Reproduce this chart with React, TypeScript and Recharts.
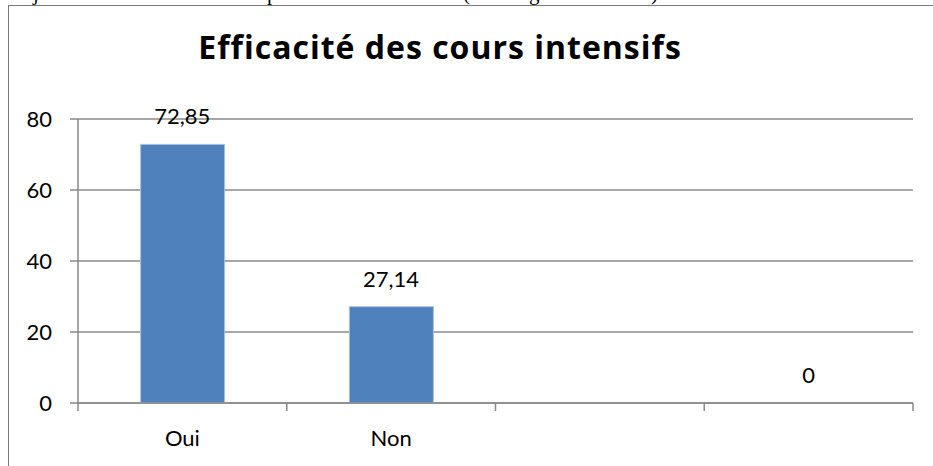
import { ComposedChart, Bar, Line, XAxis, YAxis, CartesianGrid, LabelList } from "recharts";

const categories = ["Oui", "Non", "", ""];
const values: (number | null)[] = [72.85, 27.14, null, 0];
const yTicks = [0, 20, 40, 60, 80];
const title = "Efficacité des cours intensifs";

const data = categories.map((label, i) => ({ key: `c${i}`, label, value: values[i] }));

const GRID = "#8a8a8a";
const BLUE = "#4f81bd";
const FONT = "Lato, 'Open Sans', sans-serif";

const formatValue = (v: any) => (v == null ? "" : String(v).replace(".", ","));

// tick marks sit on category boundaries, labels in the middle
const CategoryTick = (props: any) => {
  const { x, y, payload, index } = props;
  const half = payload?.offset ?? 0;
  const last = index === categories.length - 1;
  return (
    <g>
      <line x1={x - half} x2={x - half} y1={y} y2={y + 8} stroke={GRID} strokeWidth={1.5} />
      {last && <line x1={x + half} x2={x + half} y1={y} y2={y + 8} stroke={GRID} strokeWidth={1.5} />}
      <text x={x} y={y + 43} textAnchor="middle" fontSize={22} fontFamily={FONT} fill="#000">
        {categories[index]}
      </text>
    </g>
  );
};

export default function App() {
  return (
    <div style={{ position: "absolute", left: 0, top: 0, width: 933, height: 466, overflow: "hidden", background: "#fff" }}>
      <div
        style={{
          position: "absolute",
          left: 8,
          top: 5,
          width: 1000,
          height: 600,
          borderLeft: "1px solid #7a7a7a",
          borderTop: "1px solid #7a7a7a",
        }}
      />
      <svg width={933} height={466} style={{ position: "absolute", left: 0, top: 0 }}>
        <g fontFamily="'Liberation Serif', serif" fontSize={21} fill="#000">
          <text x={33} y={-0.5}>j</text>
          <text x={267} y={-0.5}>p</text>
          <text x={463} y={-0.5}>(</text>
          <text x={529} y={-0.5}>g</text>
          <text x={651} y={-0.5}>)</text>
        </g>
        <text
          x={440}
          y={58.5}
          textAnchor="middle"
          fontFamily="'Open Sans', sans-serif"
          fontWeight={700}
          fontSize={32}
          letterSpacing={1}
          fill="#000"
        >
          {title}
        </text>
      </svg>
      <div style={{ position: "absolute", left: 0, top: 0 }}>
        <ComposedChart
          width={933}
          height={466}
          data={data}
          margin={{ top: 119, right: 20, bottom: 0, left: 0 }}
          barCategoryGap="30%"
        >
          <CartesianGrid horizontal vertical={false} stroke={GRID} strokeWidth={1.5} />
          <XAxis
            dataKey="key"
            height={63}
            tickLine={false}
            tickSize={0}
            tickMargin={0}
            axisLine={{ stroke: GRID, strokeWidth: 1.5 }}
            tick={<CategoryTick />}
            interval={0}
          />
          <YAxis
            width={78}
            domain={[0, 80]}
            ticks={yTicks}
            interval={0}
            tickSize={8}
            tickMargin={18}
            tickLine={{ stroke: GRID, strokeWidth: 1.5 }}
            axisLine={{ stroke: GRID, strokeWidth: 1.5 }}
            tick={{ fontSize: 22, fontFamily: FONT, fill: "#000" }}
          />
          <Bar dataKey="value" fill={BLUE} stroke="#a9c0de" strokeWidth={1} isAnimationActive={false} />
          <Line
            dataKey="value"
            stroke="none"
            dot={false}
            activeDot={false}
            isAnimationActive={false}
          >
            <LabelList
              dataKey="value"
              position="top"
              offset={20}
              formatter={formatValue}
              style={{ fontSize: 22, fontFamily: FONT, fill: "#000" }}
            />
          </Line>
        </ComposedChart>
      </div>
    </div>
  );
}
